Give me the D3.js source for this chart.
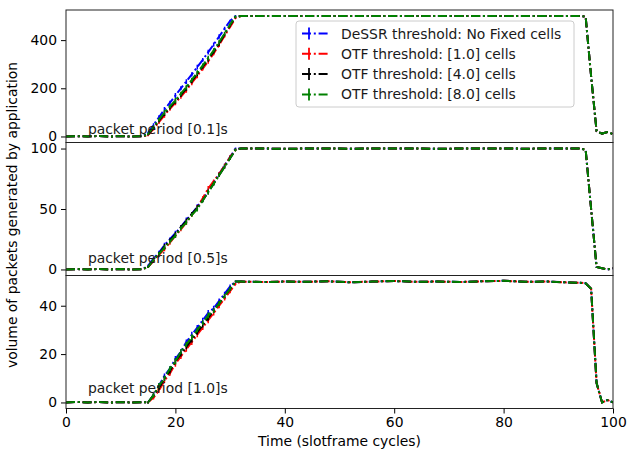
<meta charset="utf-8">
<script src="https://d3js.org/d3.v7.min.js"></script>
<style>
body { margin: 0; background: #fff; }
text { font-family: "DejaVu Sans", sans-serif; }
</style>
<body>
<script>
// ---- data ----
var seriesNames = ["DeSSR threshold: No Fixed cells", "OTF threshold: [1.0] cells",
                   "OTF threshold: [4.0] cells", "OTF threshold: [8.0] cells"];
var seriesColors = ["#0000ff", "#ff0000", "#000000", "#008000"];
var periods = ["0.1", "0.5", "1.0"];
var yTicks = [[0, 200, 400], [0, 50, 100], [0, 20, 40]];
var yMax = [500, 100, 50];
var xTicks = [0, 20, 40, 60, 80, 100];

// time samples (slotframe cycles)
var headTime = [0, 2, 4, 6, 8, 10, 12, 14];
var riseTime = [15, 16, 17, 18, 19, 20, 21, 22, 23, 24, 25, 26, 27, 28, 29, 30, 31];
var tailTime = [32, 36, 40, 44, 48, 52, 56, 60, 64, 68, 72, 76, 80, 84, 88, 92, 94, 95, 96, 97, 98, 99, 100];

// before the ramp (shared by all series)
var head01 = [0, 1, 0, 2, 0, 1, 0, 1];
var head05 = [0, 0.3, 0, 0.4, 0, 0.3, 0, 0.2];
var head10 = [0, 0.2, 0, 0.2, 0, 0.1, 0, 0.1];

// ramp, one row per series: blue, red, black, green
var rise01 = [
    [15, 48, 80, 112, 140, 170, 200, 228, 258, 288, 318, 350, 382, 415, 448, 480, 500],
    [5, 32, 60, 88, 115, 140, 165, 192, 222, 252, 282, 312, 345, 380, 418, 455, 492],
    [8, 36, 66, 95, 120, 146, 172, 200, 230, 260, 290, 320, 352, 386, 424, 462, 496],
    [10, 40, 70, 100, 125, 150, 178, 205, 235, 265, 295, 325, 358, 392, 428, 465, 498]
];
var rise05 = [
    [3, 9, 14, 20, 25, 30, 35, 41, 46, 52, 58, 65, 72, 79, 86, 93, 100],
    [2, 7, 12, 17, 22, 28, 33, 39, 45, 51, 59, 67, 73, 79, 86, 93, 99],
    [2, 8, 13, 19, 24, 29, 35, 40, 46, 51, 57, 64, 71, 78, 85, 92, 99],
    [2, 8, 13, 18, 23, 28, 34, 39, 45, 50, 57, 64, 71, 78, 85, 92, 99]
];
var rise10 = [
    [0, 3, 7, 11, 14, 18, 21, 25, 28, 31, 34, 37, 39, 42, 45, 48, 50],
    [0, 2, 5, 9, 12, 16, 19, 22, 25, 28, 31, 34, 37, 40, 43, 46, 49],
    [0, 3, 6, 10, 13, 17, 20, 23, 26, 29, 32, 35, 38, 41, 44, 47, 50],
    [0, 3, 7, 10, 14, 17, 21, 24, 27, 30, 33, 36, 38, 41, 44, 47, 50]
];
// error bars on the ramp
var err01 = [4, 7, 8, 10, 8, 10, 8, 10, 9, 10, 8, 10, 8, 9, 7, 5, 3];
var err05 = [0.8, 1.5, 1.5, 2, 1.5, 2, 1.5, 2, 1.5, 2, 1.5, 2, 1.5, 1.5, 1.5, 1.5, 0.8];
var err10 = [0.4, 0.8, 1, 1, 1, 1.2, 1, 1, 1.2, 1, 1, 1.2, 1, 1, 0.8, 0.8, 0.4];

// plateau and drop (shared by all series)
var tail01 = [500, 500, 500, 500, 500, 500, 500, 500, 500, 500, 500, 500, 500, 500, 500, 500, 500, 497, 250, 22, 12, 18, 10];
var tail05 = [100, 100, 99.8, 100, 100, 99.9, 100, 100, 100, 99.8, 100, 100, 100, 99.9, 100, 100, 100, 99, 50, 2, 1, 0, 1];
var tail10 = [50, 49.8, 50, 49.9, 50.1, 49.7, 50, 50.2, 49.9, 50, 49.8, 50.1, 50.3, 49.9, 50, 49.6, 49.5, 49.3, 47, 8, 0, 1, 0];

var heads = [head01, head05, head10];
var rises = [rise01, rise05, rise10];
var errs = [err01, err05, err10];
var tails = [tail01, tail05, tail10];

// ---- layout ----
var W = 628, H = 451;
var left = 66, right = 613;
var panelTop = [10, 142.5, 275.5];
var panelBottom = [142.5, 275.5, 408.5];

var svg = d3.select("body").append("svg")
    .attr("width", W)
    .attr("height", H)
    .style("display", "block");

var x = d3.scaleLinear().domain([0, 100]).range([left, right]);

var dash = "9,2.8,2,2.8";

periods.forEach(function(p, k) {
    var pad = yMax[k] * 0.05;
    var y = d3.scaleLinear()
        .domain([-pad, yMax[k] + pad])
        .range([panelBottom[k], panelTop[k]]);

    var g = svg.append("g");
    var clipId = "clip" + k;
    g.append("clipPath").attr("id", clipId)
        .append("rect")
        .attr("x", left).attr("y", panelTop[k])
        .attr("width", right - left).attr("height", panelBottom[k] - panelTop[k]);

    var plot = g.append("g").attr("clip-path", "url(#" + clipId + ")");
    var line = d3.line()
        .x(function(d) { return x(d[0]); })
        .y(function(d) { return y(d[1]); });

    seriesColors.forEach(function(col, s) {
        var pts = [];
        headTime.forEach(function(t, i) { pts.push([t, heads[k][i]]); });
        riseTime.forEach(function(t, i) { pts.push([t, rises[k][s][i]]); });
        tailTime.forEach(function(t, i) { pts.push([t, tails[k][i]]); });

        // error bars
        plot.selectAll(null)
            .data(riseTime)
            .enter().append("line")
            .attr("x1", function(t) { return x(t); })
            .attr("x2", function(t) { return x(t); })
            .attr("y1", function(t, i) { return y(rises[k][s][i] - errs[k][i]); })
            .attr("y2", function(t, i) { return y(rises[k][s][i] + errs[k][i]); })
            .attr("stroke", col)
            .attr("stroke-width", 1.5);

        plot.append("path")
            .datum(pts)
            .attr("d", line)
            .attr("fill", "none")
            .attr("stroke", col)
            .attr("stroke-width", 2)
            .attr("stroke-dasharray", dash);
    });

    // y axis
    var yAxis = d3.axisLeft(y).tickValues(yTicks[k]).tickSize(5).tickPadding(4);
    var ya = g.append("g")
        .attr("transform", "translate(" + left + ",0)")
        .call(yAxis);
    ya.select(".domain").remove();
    ya.selectAll("line").attr("stroke", "#000").attr("stroke-width", 1);
    ya.selectAll("text")
        .attr("font-size", "13.9px")
        .attr("font-family", "DejaVu Sans")
        .attr("fill", "#000");

    // frame
    g.append("rect")
        .attr("x", left).attr("y", panelTop[k])
        .attr("width", right - left).attr("height", panelBottom[k] - panelTop[k])
        .attr("fill", "none")
        .attr("stroke", "#222")
        .attr("stroke-width", 1);

    // panel label
    g.append("text")
        .attr("x", x(4))
        .attr("y", y([10, 5, 4][k]))
        .attr("font-size", "13.9px")
        .attr("fill", "#1a1a1a")
        .text("packet period [" + p + "]s");

    if (k === 2) {
        var xAxis = d3.axisBottom(x).tickValues(xTicks).tickSize(5).tickPadding(4);
        var xa = g.append("g")
            .attr("transform", "translate(0," + panelBottom[k] + ")")
            .call(xAxis);
        xa.select(".domain").remove();
        xa.selectAll("line").attr("stroke", "#000").attr("stroke-width", 1);
        xa.selectAll("text")
            .attr("font-size", "13.9px")
            .attr("font-family", "DejaVu Sans")
            .attr("fill", "#000");
    }
});

// axis titles
svg.append("text")
    .attr("x", (left + right) / 2)
    .attr("y", 446)
    .attr("text-anchor", "middle")
    .attr("font-size", "13.9px")
    .text("Time (slotframe cycles)");

svg.append("text")
    .attr("transform", "translate(17," + 215 + ") rotate(-90)")
    .attr("text-anchor", "middle")
    .attr("font-size", "13.9px")
    .text("volume of packets generated by application");

// legend
var lg = svg.append("g").attr("transform", "translate(296,21)");
lg.append("rect")
    .attr("width", 278).attr("height", 86)
    .attr("rx", 3)
    .attr("fill", "#fff").attr("fill-opacity", 0.8)
    .attr("stroke", "#cccccc");
seriesNames.forEach(function(name, i) {
    var cy = 12.5 + i * 20.3;
    lg.append("line")
        .attr("x1", 6).attr("x2", 34)
        .attr("y1", cy).attr("y2", cy)
        .attr("stroke", seriesColors[i])
        .attr("stroke-width", 2)
        .attr("stroke-dasharray", dash);
    lg.append("line")
        .attr("x1", 13).attr("x2", 13)
        .attr("y1", cy - 6).attr("y2", cy + 6)
        .attr("stroke", seriesColors[i])
        .attr("stroke-width", 1.8);
    lg.append("text")
        .attr("x", 45)
        .attr("y", cy + 5)
        .attr("font-size", "13.9px")
        .attr("fill", "#1a1a1a")
        .text(name);
});
</script>
</body>
